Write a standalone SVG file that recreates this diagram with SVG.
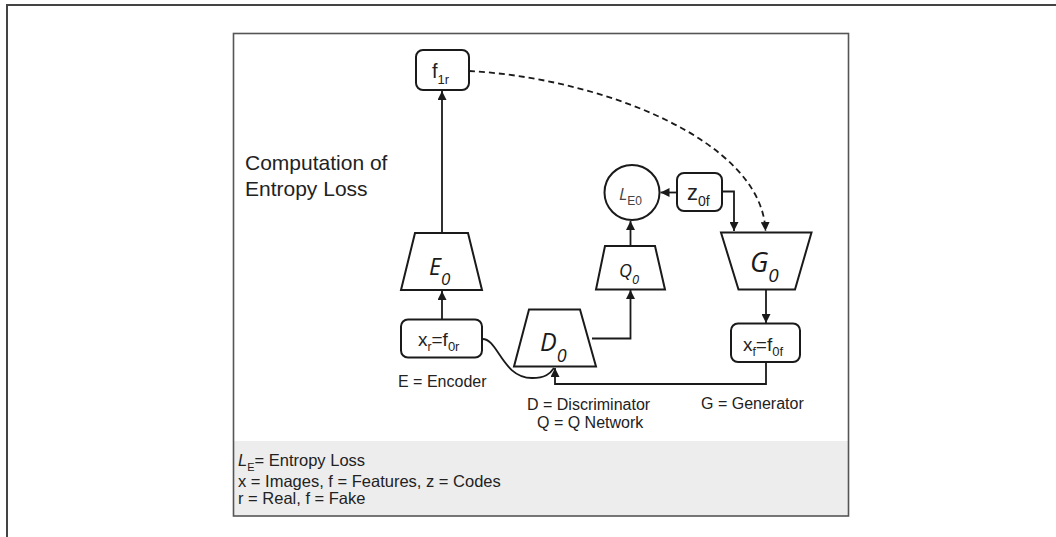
<svg xmlns="http://www.w3.org/2000/svg" width="1056" height="537" viewBox="0 0 1056 537">
<defs>
<marker id="ah" viewBox="0 0 10 10" refX="10" refY="5" markerWidth="9" markerHeight="9" markerUnits="userSpaceOnUse" orient="auto">
<path d="M0,0 L10,5 L0,10 z" fill="#1a1a1a"/>
</marker>
</defs>
<style>
.frame{fill:none;stroke:#444;stroke-width:2}
.node{fill:#fff;stroke:#1a1a1a;stroke-width:2}
.edge{fill:none;stroke:#1a1a1a;stroke-width:1.8}
.t{font-family:"Liberation Sans",Arial,sans-serif;fill:#222}
.it{font-family:"Open Sans","Liberation Sans",sans-serif;font-style:italic;fill:#1a1a1a}
</style>
<rect x="0" y="0" width="1056" height="537" fill="#fff"/>
<path class="frame" d="M7,537 V5 H1056"/>
<rect x="233.5" y="441" width="615" height="75" fill="#ededed"/>
<rect x="233.5" y="33.5" width="615" height="482.5" fill="none" stroke="#555" stroke-width="1.6"/>

<text class="t" x="245" y="170" font-size="21">Computation of</text>
<text class="t" x="245" y="196" font-size="21">Entropy Loss</text>

<g id="connectors">
<line class="edge" x1="442" y1="233" x2="442" y2="91" marker-end="url(#ah)"/>
<line class="edge" x1="442" y1="319" x2="442" y2="291" marker-end="url(#ah)"/>
<path class="edge" d="M469,71 C600,78 762,140 765.5,231" stroke-dasharray="6,4" marker-end="url(#ah)"/>
<path class="edge" d="M482,339 C498,338 502,378 532,378 C545,378 550,374 554,368"/>
<path class="edge" d="M766,362 V384 H555 V368" marker-end="url(#ah)"/>
<path class="edge" d="M592,338.5 H630.5 V290" marker-end="url(#ah)"/>
<line class="edge" x1="630.5" y1="246" x2="630.5" y2="221" marker-end="url(#ah)"/>
<line class="edge" x1="677" y1="192.5" x2="660.5" y2="192.5" marker-end="url(#ah)"/>
<path class="edge" d="M722,191.5 H734 V231" marker-end="url(#ah)"/>
<line class="edge" x1="766" y1="289.5" x2="766" y2="323" marker-end="url(#ah)"/>
</g>

<g id="f1r">
<rect class="node" x="416" y="50" width="53" height="40" rx="7"/>
<text class="t" x="432" y="78" font-size="20">f<tspan font-size="13" dy="6">1r</tspan></text>
</g>

<g id="E0">
<path class="node" d="M415,233 H468 L482,290 H401 Z"/>
<text class="it" x="429" y="275" font-size="23">E<tspan font-size="17" dy="10">0</tspan></text>
</g>

<g id="xr">
<rect class="node" x="401" y="319.5" width="81" height="38" rx="7"/>
<text class="t" x="418" y="346" font-size="19">x<tspan font-size="12" dy="5">r</tspan><tspan dy="-5">=f</tspan><tspan font-size="13" dy="5">0r</tspan></text>
</g>
<text class="t" x="398" y="387" font-size="16">E = Encoder</text>

<g id="D0">
<path class="node" d="M529,309.5 H580 L596,366.5 H514 Z"/>
<text class="it" x="540" y="351" font-size="25">D<tspan font-size="18" dy="11">0</tspan></text>
</g>
<text class="t" x="527" y="410" font-size="16">D = Discriminator</text>
<text class="t" x="537" y="428" font-size="16">Q = Q Network</text>

<g id="Q0">
<path class="node" d="M605,246 H655 L665,289.5 H596 Z"/>
<text class="it" x="619" y="277" font-size="18">Q<tspan font-size="13" dy="7">0</tspan></text>
</g>

<g id="LE0">
<circle class="node" cx="632" cy="192.5" r="27.5"/>
<text class="it" x="619" y="200" font-size="17" style="fill:#444">L<tspan font-family="Liberation Sans,sans-serif" font-style="normal" font-size="12" dy="5">E0</tspan></text>
</g>

<g id="z0f">
<rect class="node" x="677" y="173" width="45" height="38" rx="7"/>
<text class="t" x="687" y="200" font-size="22">z<tspan font-size="14" dy="6">0f</tspan></text>
</g>

<g id="G0">
<path class="node" d="M721,232.5 H811.5 L795,289.5 H738.5 Z"/>
<text class="it" x="750" y="272" font-size="27">G<tspan font-size="19" dy="10">0</tspan></text>
</g>

<g id="xf">
<rect class="node" x="731" y="323.5" width="69" height="38.5" rx="7"/>
<text class="t" x="743" y="351" font-size="19">x<tspan font-size="12" dy="5">f</tspan><tspan dy="-5">=f</tspan><tspan font-size="13" dy="5">0f</tspan></text>
</g>
<text class="t" x="701" y="409" font-size="16">G = Generator</text>

<g id="legend">
<text class="t" x="238" y="466" font-size="16.5"><tspan font-style="italic">L</tspan><tspan font-size="11" dy="5">E</tspan><tspan dy="-5">= Entropy Loss</tspan></text>
<text class="t" x="238" y="486.5" font-size="16.5">x = Images, f = Features, z = Codes</text>
<text class="t" x="238" y="503.5" font-size="16.5">r = Real, f = Fake</text>
</g>
</svg>
